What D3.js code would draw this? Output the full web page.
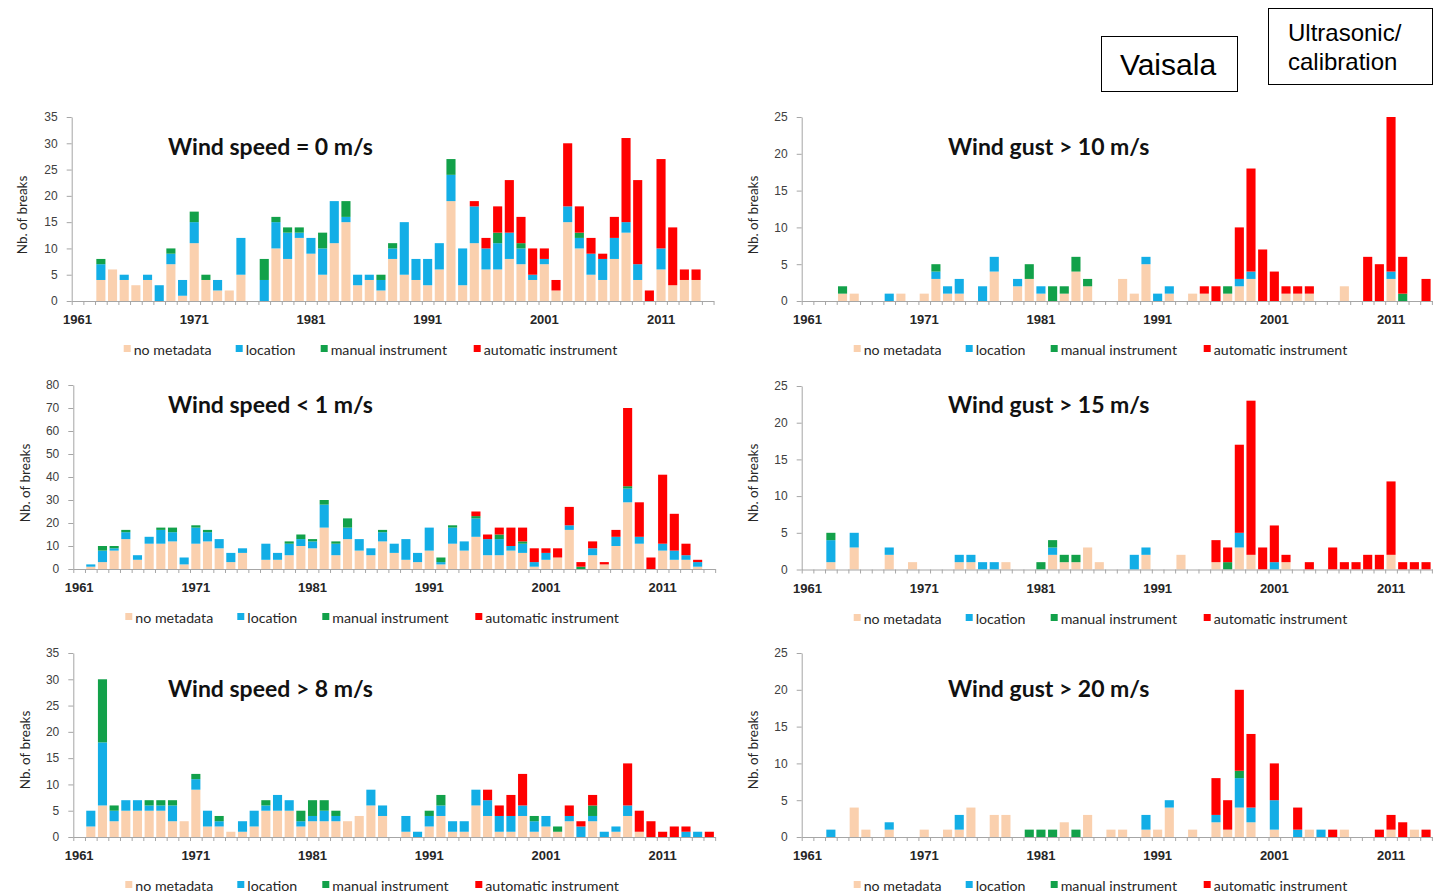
<!DOCTYPE html>
<html>
<head>
<meta charset="utf-8">
<script src="https://cdn.jsdelivr.net/npm/d3@7"></script>
<style>
  body { margin: 0; background: #fff; }
  svg { display: block; font-family: Lato, "Open Sans", sans-serif; }
  .axis path, .axis line { stroke: #a6a6a6; }
  .yaxis text { font-size: 12px; fill: #404040; }
  .xlabels text { font-size: 13px; font-weight: bold; fill: #262626; }
  .legend text { font-size: 14.2px; fill: #262626; }
</style>
</head>
<body>
<svg id="chart"></svg>
<script>
// categories
const years = [1961, 1962, 1963, 1964, 1965, 1966, 1967, 1968, 1969, 1970,
  1971, 1972, 1973, 1974, 1975, 1976, 1977, 1978, 1979, 1980,
  1981, 1982, 1983, 1984, 1985, 1986, 1987, 1988, 1989, 1990,
  1991, 1992, 1993, 1994, 1995, 1996, 1997, 1998, 1999, 2000,
  2001, 2002, 2003, 2004, 2005, 2006, 2007, 2008, 2009, 2010,
  2011, 2012, 2013, 2014, 2015];
const labelYears = [1961, 1971, 1981, 1991, 2001, 2011];
const seriesNames = ['no metadata', 'location', 'manual instrument', 'automatic instrument'];

// Wind speed = 0 m/s
const ws0NoMeta = [0,0,4,6,4,3,4,0,7,1, 11,4,2,2,5,0,0,10,8,12, 9,5,11,15,3,4,2,8,5,4, 3,6,19,3,11,6,6,8,7,4, 7,2,15,10,5,4,8,13,4,0, 6,3,4,4,0];
const ws0Location = [0,0,3,0,1,0,1,3,2,3, 4,0,2,0,7,0,4,5,5,1, 3,5,8,1,2,1,2,2,10,4, 5,5,5,7,7,4,5,5,3,1, 1,0,3,2,4,4,4,2,3,0, 4,0,0,0,0];
const ws0Manual = [0,0,1,0,0,0,0,0,1,0, 2,1,0,0,0,0,4,1,1,1, 0,3,0,3,0,0,1,1,0,0, 0,0,3,0,0,0,2,0,1,0, 0,0,0,1,0,0,0,0,0,0, 0,0,0,0,0];
const ws0Auto = [0,0,0,0,0,0,0,0,0,0, 0,0,0,0,0,0,0,0,0,0, 0,0,0,0,0,0,0,0,0,0, 0,0,0,0,1,2,5,10,5,5, 2,2,12,5,3,1,4,16,16,2, 17,11,2,2,0];

// Wind speed < 1 m/s
const ws1NoMeta = [0,1,3,8,13,4,11,11,12,2, 11,12,9,3,7,0,4,4,6,10, 9,18,6,13,8,6,12,7,4,3, 8,2,11,8,14,6,6,8,7,1, 4,5,17,0,6,2,10,29,11,0, 8,4,4,1,0];
const ws1Location = [0,1,5,1,3,2,3,6,4,3, 7,4,4,4,2,0,7,3,5,3, 3,10,5,5,5,3,4,4,9,4, 10,1,7,4,8,7,7,2,4,2, 3,0,2,0,3,0,4,6,3,0, 3,4,2,2,0];
const ws1Manual = [0,0,2,1,1,0,0,1,2,0, 1,1,0,0,0,0,0,0,1,2, 1,2,1,4,0,0,1,0,0,0, 0,2,1,0,1,0,2,0,1,0, 0,0,0,1,0,0,0,1,0,0, 0,0,0,0,0];
const ws1Auto = [0,0,0,0,0,0,0,0,0,0, 0,0,0,0,0,0,0,0,0,0, 0,0,0,0,0,0,0,0,0,0, 0,0,0,0,2,2,3,8,6,6, 2,4,8,2,3,1,3,34,15,5, 30,16,5,1,0];

// Wind speed > 8 m/s
const ws8NoMeta = [0,2,6,3,5,5,5,5,3,3, 9,2,2,1,1,2,5,5,5,2, 3,3,3,3,4,6,4,0,1,0, 2,4,1,1,6,4,1,1,4,1, 2,1,3,0,3,0,1,4,1,0, 0,0,0,0,0];
const ws8Location = [0,3,12,2,2,2,1,1,3,0, 2,3,1,0,2,3,1,3,2,1, 1,2,1,0,0,3,2,0,3,1, 2,2,2,2,3,3,3,3,2,2, 2,0,1,2,1,1,1,2,0,0, 0,0,1,1,0];
const ws8Manual = [0,0,12,1,0,0,1,1,1,0, 1,0,1,0,0,0,1,0,0,2, 3,2,1,0,0,0,0,0,0,0, 1,2,0,0,0,0,0,0,0,1, 0,1,0,0,2,0,0,0,0,0, 0,0,0,0,0];
const ws8Auto = [0,0,0,0,0,0,0,0,0,0, 0,0,0,0,0,0,0,0,0,0, 0,0,0,0,0,0,0,0,0,0, 0,0,0,0,0,2,2,4,6,0, 0,0,2,1,2,0,0,8,4,3, 1,2,1,0,1];

// Wind gust > 10 m/s
const wg10NoMeta = [0,0,0,1,1,0,0,0,1,0, 1,3,1,1,0,0,4,0,2,3, 1,0,1,4,2,0,0,3,1,5, 0,1,0,1,1,0,1,2,3,0, 0,1,1,1,0,0,2,0,0,0, 3,0,0,0,0];
const wg10Location = [0,0,0,0,0,0,0,1,0,0, 0,1,1,2,0,2,2,0,1,0, 1,0,0,0,0,0,0,0,0,1, 1,1,0,0,0,0,0,1,1,0, 0,0,0,0,0,0,0,0,0,0, 1,0,0,0,0];
const wg10Manual = [0,0,0,1,0,0,0,0,0,0, 0,1,0,0,0,0,0,0,0,2, 0,2,1,2,1,0,0,0,0,0, 0,0,0,0,0,0,1,0,0,0, 0,0,0,0,0,0,0,0,0,0, 0,1,0,0,0];
const wg10Auto = [0,0,0,0,0,0,0,0,0,0, 0,0,0,0,0,0,0,0,0,0, 0,0,0,0,0,0,0,0,0,0, 0,0,0,0,1,2,0,7,14,7, 4,1,1,1,0,0,0,0,6,5, 21,5,0,3,0];

// Wind gust > 15 m/s
const wg15NoMeta = [0,0,1,0,3,0,0,2,0,1, 0,0,0,1,1,0,0,1,0,0, 0,2,1,1,3,1,0,0,0,2, 0,0,2,0,0,1,0,3,2,0, 0,1,0,0,0,0,0,0,0,0, 2,0,0,0,0];
const wg15Location = [0,0,3,0,2,0,0,1,0,0, 0,0,0,1,1,1,1,0,0,0, 0,1,0,0,0,0,0,0,2,1, 0,0,0,0,0,0,0,2,0,0, 1,0,0,0,0,0,0,0,0,0, 0,0,0,0,0];
const wg15Manual = [0,0,1,0,0,0,0,0,0,0, 0,0,0,0,0,0,0,0,0,0, 1,1,1,1,0,0,0,0,0,0, 0,0,0,0,0,0,1,0,0,0, 0,0,0,0,0,0,0,0,0,0, 0,0,0,0,0];
const wg15Auto = [0,0,0,0,0,0,0,0,0,0, 0,0,0,0,0,0,0,0,0,0, 0,0,0,0,0,0,0,0,0,0, 0,0,0,0,0,3,2,12,21,3, 5,1,0,1,0,3,1,1,2,2, 10,1,1,1,0];

// Wind gust > 20 m/s
const wg20NoMeta = [0,0,0,0,4,1,0,1,0,0, 1,0,1,1,4,0,3,3,0,0, 0,0,2,0,3,0,1,1,0,1, 1,4,0,1,0,2,1,4,2,0, 1,0,0,1,0,0,1,0,0,0, 1,0,1,0,0];
const wg20Location = [0,0,1,0,0,0,0,1,0,0, 0,0,0,2,0,0,0,0,0,0, 0,0,0,0,0,0,0,0,0,2, 0,1,0,0,0,1,0,4,2,0, 4,0,1,0,1,0,0,0,0,0, 0,0,0,0,0];
const wg20Manual = [0,0,0,0,0,0,0,0,0,0, 0,0,0,0,0,0,0,0,0,1, 1,1,0,1,0,0,0,0,0,0, 0,0,0,0,0,0,0,1,0,0, 0,0,0,0,0,0,0,0,0,0, 0,0,0,0,0];
const wg20Auto = [0,0,0,0,0,0,0,0,0,0, 0,0,0,0,0,0,0,0,0,0, 0,0,0,0,0,0,0,0,0,0, 0,0,0,0,0,5,4,11,10,0, 5,0,3,0,0,1,0,0,0,1, 2,2,0,1,0];

const colors = ['#fad0ae', '#13aee6', '#12a14a', '#ff0000'];
const keys = ['nometa', 'location', 'manual', 'automatic'];

// layout of the six panels
let panels = [
  { title: 'Wind speed = 0 m/s', series: [ws0NoMeta, ws0Location, ws0Manual, ws0Auto],
    x0: 71.7, base: 301, top: 117, max: 35, step: 5, titleX: 168, titleY: 146, legendY: 349, ylabX: 22, ylabY: 215 },
  { title: 'Wind gust > 10 m/s', series: [wg10NoMeta, wg10Location, wg10Manual, wg10Auto],
    x0: 801.7, base: 301, top: 117, max: 25, step: 5, titleX: 948, titleY: 146, legendY: 349, ylabX: 753, ylabY: 215 },
  { title: 'Wind speed < 1 m/s', series: [ws1NoMeta, ws1Location, ws1Manual, ws1Auto],
    x0: 73.3, base: 569, top: 385, max: 80, step: 10, titleX: 168, titleY: 404, legendY: 617, ylabX: 25, ylabY: 483 },
  { title: 'Wind gust > 15 m/s', series: [wg15NoMeta, wg15Location, wg15Manual, wg15Auto],
    x0: 801.7, base: 569.5, top: 386, max: 25, step: 5, titleX: 948, titleY: 404, legendY: 618, ylabX: 753, ylabY: 483 },
  { title: 'Wind speed > 8 m/s', series: [ws8NoMeta, ws8Location, ws8Manual, ws8Auto],
    x0: 73.3, base: 837, top: 653, max: 35, step: 5, titleX: 168, titleY: 688, legendY: 885, ylabX: 25, ylabY: 750 },
  { title: 'Wind gust > 20 m/s', series: [wg20NoMeta, wg20Location, wg20Manual, wg20Auto],
    x0: 801.7, base: 837, top: 653, max: 25, step: 5, titleX: 948, titleY: 688, legendY: 885, ylabX: 753, ylabY: 750 }
];

const bandW = 11.67;
const svg = d3.select('#chart').attr('width', 1433).attr('height', 893);

function drawPanel(p) {
  let rows = years.map((yr, i) => ({
    year: yr,
    nometa: p.series[0][i],
    location: p.series[1][i],
    manual: p.series[2][i],
    automatic: p.series[3][i]
  }));
  let layers = d3.stack().keys(keys)(rows);

  let x1 = p.x0 + years.length * bandW;
  let x = d3.scaleBand()
    .domain(years)
    .range([p.x0, x1])
    .paddingInner(0.22)
    .paddingOuter(0.11);
  let y = d3.scaleLinear()
    .domain([0, p.max])
    .range([p.base, p.top]);

  let g = svg.append('g');

  g.selectAll('g.layer')
    .data(layers)
    .enter()
    .append('g')
    .attr('class', 'layer')
    .attr('fill', (d, i) => colors[i])
    .selectAll('rect')
    .data((d) => d.filter((s) => s[1] > s[0]))
    .enter()
    .append('rect')
    .attr('x', (d) => x(d.data.year))
    .attr('y', (d) => y(d[1]))
    .attr('width', x.bandwidth())
    .attr('height', (d) => y(d[0]) - y(d[1]));

  // AXES
  g.append('g')
    .attr('class', 'axis yaxis')
    .attr('transform', `translate(${p.x0},0)`)
    .call(d3.axisLeft(y)
      .tickValues(d3.range(0, p.max + 1, p.step))
      .tickSize(5)
      .tickSizeOuter(0)
      .tickPadding(9));

  // tick marks at each year boundary
  let xb = d3.scaleLinear().domain([0, years.length]).range([p.x0, x1]);
  g.append('g')
    .attr('class', 'axis')
    .attr('transform', `translate(0,${p.base})`)
    .call(d3.axisBottom(xb)
      .tickValues(d3.range(0, years.length + 1))
      .tickFormat('')
      .tickSize(4)
      .tickSizeOuter(0));

  g.append('g')
    .attr('class', 'xlabels')
    .attr('transform', `translate(0,${p.base})`)
    .call(d3.axisBottom(x).tickValues(labelYears).tickSize(0).tickPadding(14))
    .call((a) => a.select('.domain').remove());

  g.append('text')
    .attr('transform', `translate(${p.ylabX},${p.ylabY}) rotate(-90)`)
    .attr('text-anchor', 'middle')
    .attr('dominant-baseline', 'central')
    .attr('font-size', 13.5)
    .attr('fill', '#262626')
    .text('Nb. of breaks');

  g.append('text')
    .attr('x', p.titleX)
    .attr('y', p.titleY)
    .attr('dominant-baseline', 'central')
    .attr('font-size', 23)
    .attr('font-weight', 'bold')
    .attr('fill', '#111')
    .text(p.title);

  // legend
  let offsets = [0, 112, 197, 350];
  let leg = g.append('g')
    .attr('class', 'legend')
    .attr('transform', `translate(${p.x0 + 52},${p.legendY})`);
  let item = leg.selectAll('g')
    .data(seriesNames)
    .enter()
    .append('g')
    .attr('transform', (d, i) => `translate(${offsets[i]},0)`);
  item.append('rect')
    .attr('x', 0).attr('y', -4)
    .attr('width', 7).attr('height', 7)
    .attr('fill', (d, i) => colors[i]);
  item.append('text')
    .attr('x', 10)
    .attr('dominant-baseline', 'central')
    .text((d) => d);
}

panels.forEach(drawPanel);

// boxes at the top right
svg.append('rect')
  .attr('x', 1101.5).attr('y', 36.5).attr('width', 136).attr('height', 55)
  .attr('fill', 'none').attr('stroke', '#000').attr('stroke-width', 1);
svg.append('text')
  .attr('x', 1168).attr('y', 64)
  .attr('text-anchor', 'middle').attr('dominant-baseline', 'central')
  .attr('font-family', '"Liberation Sans", Arial, sans-serif')
  .attr('font-size', 30)
  .text('Vaisala');

svg.append('rect')
  .attr('x', 1268.5).attr('y', 8.5).attr('width', 164).attr('height', 76)
  .attr('fill', 'none').attr('stroke', '#000').attr('stroke-width', 1);
svg.append('text')
  .attr('x', 1288).attr('y', 32)
  .attr('dominant-baseline', 'central')
  .attr('font-family', '"Liberation Sans", Arial, sans-serif')
  .attr('font-size', 24)
  .text('Ultrasonic/');
svg.append('text')
  .attr('x', 1288).attr('y', 61)
  .attr('dominant-baseline', 'central')
  .attr('font-family', '"Liberation Sans", Arial, sans-serif')
  .attr('font-size', 24)
  .text('calibration');
</script>
</body>
</html>
